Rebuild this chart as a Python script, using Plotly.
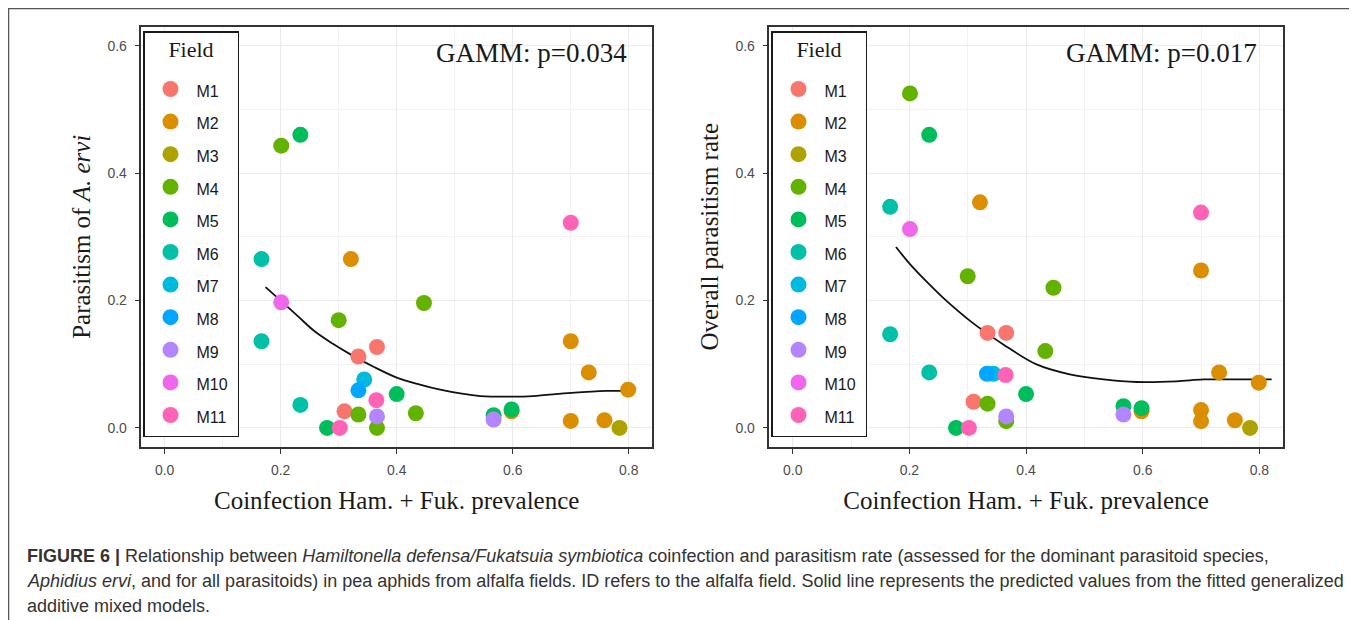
import plotly.graph_objects as go

# ---------------- data ----------------
fields = ["M1", "M2", "M3", "M4", "M5", "M6", "M7", "M8", "M9", "M10", "M11"]
colors = ["#F8766D", "#DB8E00", "#AEA200", "#64B200", "#00BD5C", "#00C1A7",
          "#00BADE", "#00A6FF", "#B385FF", "#EF67EB", "#FF63B6"]

# Panel A: Parasitism of A. ervi
ervi_x = {
    "M1": [0.366, 0.334, 0.310],
    "M2": [0.321, 0.700, 0.731, 0.799, 0.700, 0.758, 0.598],
    "M3": [0.784],
    "M4": [0.201, 0.300, 0.447, 0.334, 0.366, 0.433],
    "M5": [0.234, 0.280, 0.400, 0.567, 0.598],
    "M6": [0.167, 0.167, 0.234],
    "M7": [0.344],
    "M8": [0.334],
    "M9": [0.366, 0.567],
    "M10": [0.201],
    "M11": [0.700, 0.365, 0.302],
}
ervi_y = {
    "M1": [0.127, 0.112, 0.026],
    "M2": [0.265, 0.136, 0.087, 0.060, 0.011, 0.012, 0.026],
    "M3": [0.000],
    "M4": [0.443, 0.169, 0.196, 0.021, 0.000, 0.023],
    "M5": [0.460, 0.000, 0.053, 0.020, 0.029],
    "M6": [0.265, 0.136, 0.036],
    "M7": [0.076],
    "M8": [0.059],
    "M9": [0.018, 0.013],
    "M10": [0.197],
    "M11": [0.322, 0.0435, 0.000],
}

# Panel B: Overall parasitism rate
overall_x = {
    "M1": [0.334, 0.366, 0.310],
    "M2": [0.321, 0.700, 0.731, 0.799, 0.700, 0.700, 0.758, 0.598],
    "M3": [0.784],
    "M4": [0.201, 0.300, 0.447, 0.433, 0.334, 0.366],
    "M5": [0.234, 0.400, 0.567, 0.598, 0.280],
    "M6": [0.167, 0.167, 0.234],
    "M7": [0.344],
    "M8": [0.333],
    "M9": [0.366, 0.567],
    "M10": [0.201],
    "M11": [0.700, 0.302, 0.365],
}
overall_y = {
    "M1": [0.149, 0.149, 0.041],
    "M2": [0.354, 0.247, 0.087, 0.071, 0.028, 0.0105, 0.012, 0.026],
    "M3": [0.000],
    "M4": [0.525, 0.238, 0.220, 0.1205, 0.038, 0.0105],
    "M5": [0.460, 0.053, 0.034, 0.031, 0.000],
    "M6": [0.347, 0.147, 0.087],
    "M7": [0.085],
    "M8": [0.085],
    "M9": [0.018, 0.021],
    "M10": [0.312],
    "M11": [0.338, 0.000, 0.083],
}

# GAMM fitted curves
fit_a_x = [0.174, 0.201, 0.230, 0.258, 0.290, 0.321, 0.360, 0.400, 0.440, 0.475, 0.510, 0.544, 0.600, 0.635, 0.701, 0.761, 0.804]
fit_a_y = [0.221, 0.199, 0.175, 0.152, 0.132, 0.115, 0.096, 0.079, 0.068, 0.060, 0.054, 0.050, 0.049, 0.050, 0.055, 0.058, 0.058]
fit_b_x = [0.177, 0.201, 0.230, 0.258, 0.304, 0.361, 0.418, 0.475, 0.533, 0.590, 0.658, 0.704, 0.761, 0.821]
fit_b_y = [0.284, 0.257, 0.229, 0.204, 0.168, 0.131, 0.0996, 0.084, 0.076, 0.072, 0.073, 0.076, 0.076, 0.076]

x_ticks = [0.0, 0.2, 0.4, 0.6, 0.8]
y_ticks = [0.0, 0.2, 0.4, 0.6]
p_labels = ["GAMM: p=0.034", "GAMM: p=0.017"]

# ---------------- figure ----------------
OFF = 8                      # page body margin
W, H = 1357 - OFF, 620 - OFF
SERIF = "Liberation Serif, Times New Roman, serif"
SANS = "Liberation Sans, Arial, sans-serif"

fig = go.Figure()

panels = [
    (ervi_x, ervi_y, fit_a_x, fit_a_y, "x", "y", "legend"),
    (overall_x, overall_y, fit_b_x, fit_b_y, "x2", "y2", "legend2"),
]
for px, py, fx, fy, xa, ya, lg in panels:
    fig.add_trace(go.Scatter(x=fx, y=fy, mode="lines", line=dict(color="#111111", width=1.8, shape="spline"),
                             xaxis=xa, yaxis=ya, showlegend=False, hoverinfo="skip"))
    for f, c in zip(fields, colors):
        fig.add_trace(go.Scatter(x=px[f], y=py[f], mode="markers",
                                 name=f"<span style='font-size:16px'>{f}&nbsp;</span>",
                                 marker=dict(color=c, size=16, line=dict(width=0)),
                                 xaxis=xa, yaxis=ya, legend=lg, legendgroup=f))

# page-pixel -> paper helpers (margins 0 -> paper == figure)
def fx_(px):
    return (px - OFF) / W

def fy_(py):
    return 1 - (py - OFF) / H

dom_y = [fy_(447), fy_(26.5)]
dom_x1 = [fx_(141.4), fx_(652)]
dom_x2 = [fx_(769.4), fx_(1282.7)]

axis_common = dict(
    showline=True, linecolor="#333333", linewidth=1.5, mirror=True,
    ticks="outside", ticklen=5, tickwidth=1, tickcolor="#333333",
    showgrid=True, gridcolor="#EBEBEB", gridwidth=1,
    zeroline=False,
    tickfont=dict(family=SANS, size=14, color="#4D4D4D"),
)
xaxis_common = dict(axis_common, range=[-0.04, 0.84], tickvals=x_ticks,
                    ticktext=[f"{v:.1f}" for v in x_ticks], ticklabelstandoff=4,
                    minor=dict(showgrid=True, gridcolor="#F2F2F2", gridwidth=1, dtick=0.1, tick0=0))
yaxis_common = dict(axis_common, range=[-0.03, 0.63], tickvals=y_ticks,
                    ticktext=[f"{v:.1f}" for v in y_ticks], ticklabelstandoff=5,
                    minor=dict(showgrid=True, gridcolor="#F2F2F2", gridwidth=1, dtick=0.1, tick0=0))

xtitle = dict(text="Coinfection Ham. + Fuk. prevalence", font=dict(family=SERIF, size=25, color="#1A1A1A"), standoff=15)

fig.update_layout(
    width=W, height=H,
    margin=dict(l=0, r=0, t=0, b=0),
    paper_bgcolor="white", plot_bgcolor="white",
    xaxis=dict(xaxis_common, domain=dom_x1, anchor="y", title=xtitle),
    yaxis=dict(yaxis_common, domain=dom_y, anchor="x",
               title=dict(text="Parasitism of <i>A. ervi</i>", font=dict(family=SERIF, size=25, color="#1A1A1A"), standoff=10)),
    xaxis2=dict(xaxis_common, domain=dom_x2, anchor="y2", title=xtitle),
    yaxis2=dict(yaxis_common, domain=dom_y, anchor="x2",
                title=dict(text="Overall parasitism rate", font=dict(family=SERIF, size=25, color="#1A1A1A"), standoff=10)),
    showlegend=True,
)

legend_title = " <br><span style='font-size:22px'>Field</span><br> "
legend_common = dict(
    xanchor="left", yanchor="top",
    bgcolor="white", bordercolor="#1A1A1A", borderwidth=1.5,
    font=dict(family=SANS, size=20, color="#1A1A1A"),
    title=dict(text=legend_title, side="top center",
               font=dict(family=SERIF, size=9.49, color="#1A1A1A")),
    tracegroupgap=3.6, itemsizing="trace", itemwidth=42,
)
fig.update_layout(
    legend=dict(legend_common, x=fx_(143), y=fy_(31)),
    legend2=dict(legend_common, x=fx_(771), y=fy_(31)),
)

# GAMM p-value labels
for xa, ya, txt in [("x", "y", p_labels[0]), ("x2", "y2", p_labels[1])]:
    fig.add_annotation(x=0.8, y=0.588, xref=xa, yref=ya, text=txt, showarrow=False,
                       xanchor="right", yanchor="middle",
                       font=dict(family=SERIF, size=27, color="#1A1A1A"))

# outer frame
fig.add_shape(type="rect", xref="paper", yref="paper",
              x0=0.5 / W, x1=fx_(1353), y0=-0.1, y1=1 - 0.5 / H,
              line=dict(color="#555555", width=1.5), fillcolor="rgba(0,0,0,0)", layer="below")

# caption
cap_lines = [
    "<b>FIGURE 6 |</b> Relationship between <i>Hamiltonella defensa/Fukatsuia symbiotica</i> coinfection and parasitism rate (assessed for the dominant parasitoid species,",
    "<i>Aphidius ervi</i>, and for all parasitoids) in pea aphids from alfalfa fields. ID refers to the alfalfa field. Solid line represents the predicted values from the fitted generalized",
    "additive mixed models.",
]
cap_y = [556, 581, 606]
for t, yy in zip(cap_lines, cap_y):
    fig.add_annotation(x=fx_(25), y=fy_(yy), xref="paper", yref="paper", text=t,
                       showarrow=False, xanchor="left", yanchor="middle", align="left",
                       font=dict(family=SANS, size=18, color="#333333"))

fig.write_html("out.html")
